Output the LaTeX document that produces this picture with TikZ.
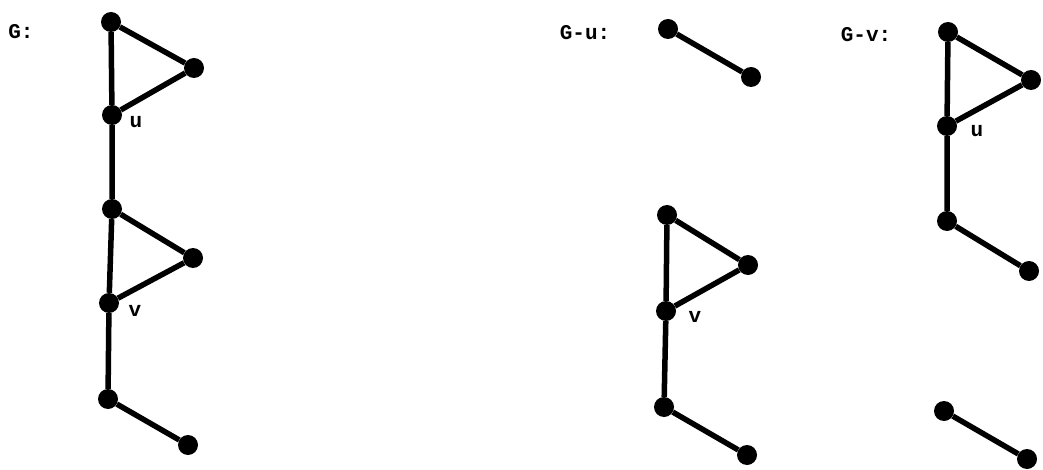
\documentclass[tikz,border=0pt]{standalone}
\usepackage{fontspec}
\newfontfamily\tyfont{Liberation Mono}
\begin{document}
\begin{tikzpicture}[x=1pt,y=-1pt,
  vtx/.style={circle,fill=black,inner sep=0pt,minimum size=20pt},
  edge/.style={line width=5.5pt},
  lbl/.style={font=\tyfont\bfseries\fontsize{21}{21}\selectfont,inner sep=0pt}]
\useasboundingbox (0,0) rectangle (1043,470);
% G
\node[vtx] (a1) at (111,22) {};
\node[vtx] (a2) at (194,68) {};
\node[vtx] (au) at (112,115) {};
\node[vtx] (a3) at (112,209) {};
\node[vtx] (a4) at (193,258) {};
\node[vtx] (av) at (109,303) {};
\node[vtx] (a5) at (108,399) {};
\node[vtx] (a6) at (188,445) {};
\draw[edge] (a1)--(a2) (a1)--(au) (au)--(a2) (au)--(a3) (a3)--(a4) (a3)--(av) (av)--(a4) (av)--(a5) (a5)--(a6);
\node[lbl] (lG) at (21,32) {G:};
\node[lbl] (lu1) at (136,122) {u};
\node[lbl] (lv1) at (135,311) {v};
% G-u
\node[vtx] (b1) at (668,29) {};
\node[vtx] (b2) at (751,77) {};
\node[vtx] (c1) at (667,215) {};
\node[vtx] (c2) at (748,265) {};
\node[vtx] (cv) at (666,311) {};
\node[vtx] (c3) at (664,407) {};
\node[vtx] (c4) at (747,455) {};
\draw[edge] (b1)--(b2) (c1)--(c2) (c1)--(cv) (cv)--(c2) (cv)--(c3) (c3)--(c4);
\node[lbl] (lGu) at (585,33) {G-u:};
\node[lbl] (lv2) at (695,317) {v};
% G-v
\node[vtx] (d1) at (948,32) {};
\node[vtx] (d2) at (1031,80) {};
\node[vtx] (du) at (947,126) {};
\node[vtx] (d3) at (947,221) {};
\node[vtx] (d4) at (1029,271) {};
\node[vtx] (e1) at (944,411) {};
\node[vtx] (e2) at (1027,459) {};
\draw[edge] (d1)--(d2) (d1)--(du) (du)--(d2) (du)--(d3) (d3)--(d4) (e1)--(e2);
\node[lbl] (lGv) at (866,35) {G-v:};
\node[lbl] (lu2) at (977,131) {u};
\end{tikzpicture}
\end{document}
